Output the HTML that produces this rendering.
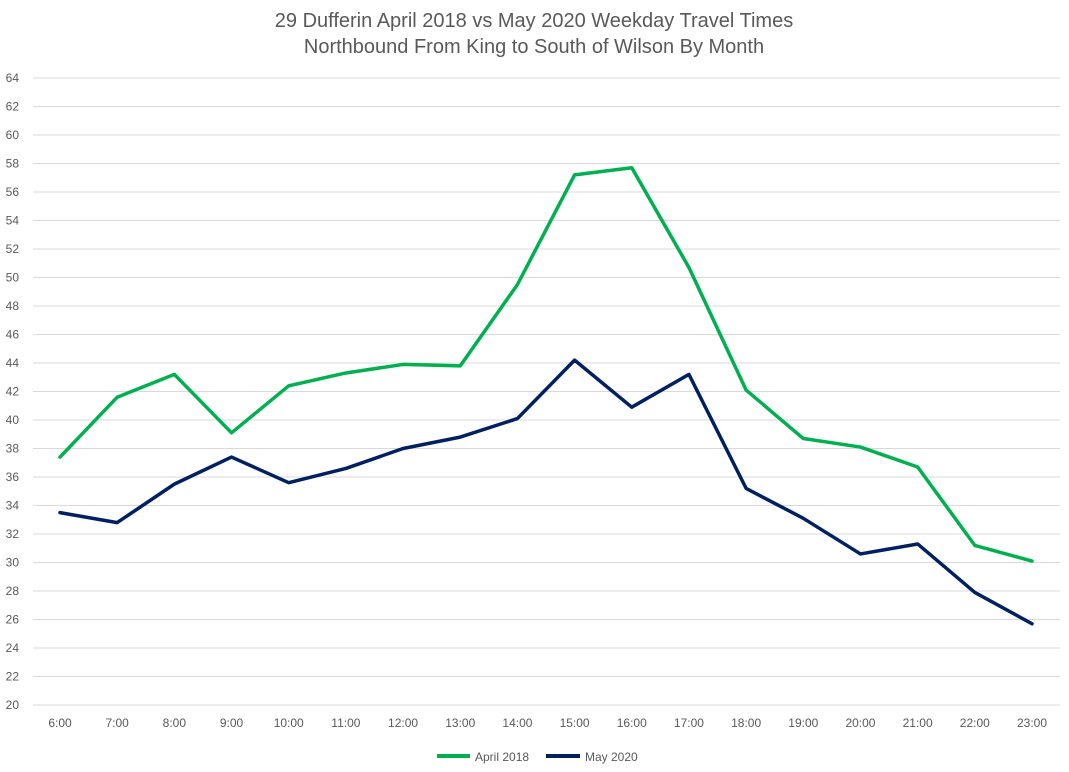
<!DOCTYPE html>
<html><head><meta charset="utf-8"><style>
body{margin:0;background:#fff;font-family:"Liberation Sans",sans-serif}
svg text{font-family:"Liberation Sans",sans-serif}
</style></head><body>
<svg id="chart" width="1069" height="767" xmlns="http://www.w3.org/2000/svg">
<text x="534" y="27" text-anchor="middle" font-size="20" fill="#595959">29 Dufferin April 2018 vs May 2020 Weekday Travel Times</text>
<text x="534" y="53" text-anchor="middle" font-size="20" fill="#595959">Northbound From King to South of Wilson By Month</text>
<g id="grid"></g>
<g id="yticks"></g>
<g id="xticks"></g>
<g id="series"></g>
<g>
<line x1="437" y1="756" x2="470" y2="756" stroke="#00b050" stroke-width="4"/>
<text x="475" y="761" font-size="12" fill="#595959">April 2018</text>
<line x1="546" y1="756" x2="580" y2="756" stroke="#002060" stroke-width="4"/>
<text x="585" y="761" font-size="12" fill="#595959">May 2020</text>
</g>
</svg>
<script>
const categories=["6:00","7:00","8:00","9:00","10:00","11:00","12:00","13:00","14:00","15:00","16:00","17:00","18:00","19:00","20:00","21:00","22:00","23:00"];
const april2018=[37.4,41.6,43.2,39.1,42.4,43.3,43.9,43.8,49.5,57.2,57.7,50.7,42.1,38.7,38.1,36.7,31.2,30.1];
const may2020=[33.5,32.8,35.5,37.4,35.6,36.6,38.0,38.8,40.1,44.2,40.9,43.2,35.2,33.1,30.6,31.3,27.9,25.7];
const yTicks=[20,22,24,26,28,30,32,34,36,38,40,42,44,46,48,50,52,54,56,58,60,62,64];
const NS="http://www.w3.org/2000/svg";
const yMin=20,yMax=64,yTop=78,yBot=705,xL=33,xR=1060,x0=60,x1=1032;
function ys(v){return yBot-(v-yMin)/(yMax-yMin)*(yBot-yTop);}
function xs(i){return x0+i*(x1-x0)/(categories.length-1);}
function mk(t,a,p){const e=document.createElementNS(NS,t);for(const k in a)e.setAttribute(k,a[k]);p.appendChild(e);return e;}
const grid=document.getElementById('grid'),yt=document.getElementById('yticks'),xt=document.getElementById('xticks'),ser=document.getElementById('series');
yTicks.forEach(v=>{
 const l=mk('line',{x1:xL,x2:xR,y1:ys(v),y2:ys(v),stroke:'#d9d9d9','stroke-width':1},grid);
 
 
 const t=mk('text',{x:19,y:ys(v)+4,'text-anchor':'end','font-size':12,fill:'#595959'},yt);
 t.textContent=v;
 
 
});
categories.forEach((c,i)=>{
 const t=mk('text',{x:xs(i),y:727,'text-anchor':'middle','font-size':12,fill:'#595959'},xt);
 t.textContent=c;
 
 
});
function line(d,col,name){
 const p=mk('polyline',{points:d.map((v,i)=>xs(i)+','+ys(v)).join(' '),fill:'none',stroke:col,'stroke-width':3.5,'stroke-linejoin':'round','stroke-linecap':'round'},ser);
 
 
}
line(april2018,'#00b050','april-2018-line');
line(may2020,'#002060','may-2020-line');
</script>
</body></html>
